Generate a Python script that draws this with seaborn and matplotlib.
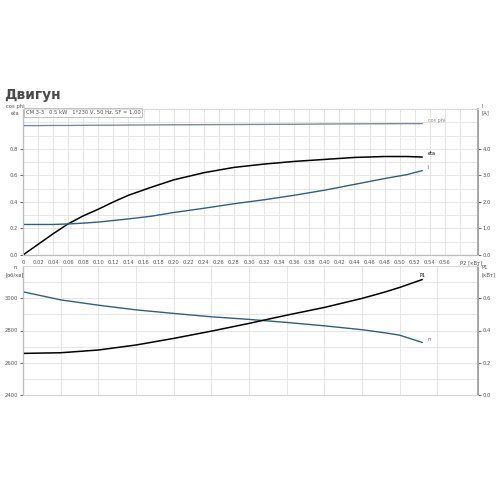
import matplotlib
matplotlib.use("Agg")
import matplotlib.pyplot as plt
import seaborn as sns
import numpy as np
import pandas as pd

# верхній графік: cos phi, eta (ліва вісь), I (права вісь)
p2_top = [0, 0.02, 0.04, 0.06, 0.08, 0.10, 0.12, 0.14, 0.17, 0.20, 0.24,
          0.28, 0.32, 0.36, 0.40, 0.44, 0.48, 0.51, 0.53]
eta = [0, 0.08, 0.16, 0.235, 0.295, 0.345, 0.40, 0.45, 0.51, 0.566, 0.62,
       0.66, 0.685, 0.705, 0.72, 0.735, 0.742, 0.742, 0.738]
current = [1.15, 1.15, 1.15, 1.17, 1.20, 1.24, 1.30, 1.36, 1.46, 1.60, 1.76,
           1.93, 2.08, 2.25, 2.44, 2.66, 2.88, 3.03, 3.18]
cos_phi = [0.975, 0.975, 0.976, 0.976, 0.977, 0.978, 0.978, 0.979, 0.980, 0.981, 0.982,
           0.983, 0.984, 0.985, 0.987, 0.988, 0.989, 0.990, 0.990]

# нижній графік: n (ліва вісь), P1 (права вісь)
p2_bot = [0, 0.05, 0.10, 0.15, 0.20, 0.25, 0.30, 0.35, 0.40, 0.45, 0.48, 0.50, 0.53]
speed = [3040, 2990, 2957, 2928, 2906, 2885, 2869, 2850, 2829, 2805, 2786, 2771, 2726]
p1 = [0.258, 0.262, 0.279, 0.31, 0.351, 0.396, 0.444, 0.495, 0.543, 0.599, 0.638, 0.667, 0.716]

x_ticks = [round(0.02 * i, 2) for i in range(30)]
x_labels = ["0"] + [f"{v:.2f}" for v in x_ticks[1:-1]] + ["P2 [кВт]"]

top = pd.DataFrame({"P2": p2_top, "eta": eta, "I": current, "cos_phi": cos_phi})
bot = pd.DataFrame({"P2": p2_bot, "n": speed, "P1": p1})

sns.set_style("white")
plt.rcParams["font.family"] = ["DejaVu Sans"]

BLUE = "#2f5f80"
GRID = "#e2e2e2"
TXT = "#555555"
fs = 3.8

fig = plt.figure(figsize=(5, 5), dpi=100)
ax1 = fig.add_axes([0.046, 0.49, 0.91, 0.292])
ax2 = ax1.twinx()
ax3 = fig.add_axes([0.046, 0.21, 0.91, 0.258])
ax4 = ax3.twinx()

sns.lineplot(data=top, x="P2", y="cos_phi", ax=ax1, color="#7d8b98", lw=1.0)
sns.lineplot(data=top, x="P2", y="eta", ax=ax1, color="black", lw=1.1)
sns.lineplot(data=top, x="P2", y="I", ax=ax2, color=BLUE, lw=1.0)
sns.lineplot(data=bot, x="P2", y="n", ax=ax3, color=BLUE, lw=1.0)
sns.lineplot(data=bot, x="P2", y="P1", ax=ax4, color="black", lw=1.1)

ax1.set_xlim(0, 0.604)
ax1.set_ylim(0, 1.1)
ax2.set_ylim(0, 5.5)
ax3.set_xlim(0, 0.604)
ax3.set_ylim(2400, 3200)
ax4.set_ylim(0, 0.8)

ax1.set_xticks(x_ticks)
ax1.set_xticklabels(x_labels)
ax1.get_xticklabels()[-1].set_horizontalalignment("left")
ax1.set_yticks([0, 0.2, 0.4, 0.6, 0.8])
ax1.set_yticklabels(["0.0", "0.2", "0.4", "0.6", "0.8"])
ax1.set_yticks(np.arange(0.1, 1.1, 0.1), minor=True)
ax1.grid(True, which="both", color=GRID, lw=0.6)
ax2.set_yticks([0, 1, 2, 3, 4])
ax2.set_yticklabels(["0.0", "1.0", "2.0", "3.0", "4.0"])

ax3.set_xticks(np.arange(0.05, 0.6, 0.05))
ax3.set_xticklabels([])
ax3.set_yticks([2400, 2600, 2800, 3000])
ax3.set_yticks(np.arange(2500, 3200, 100), minor=True)
ax3.grid(True, which="both", color=GRID, lw=0.6)
ax4.set_yticks([0, 0.2, 0.4, 0.6])
ax4.set_yticklabels(["0.0", "0.2", "0.4", "0.6"])

for a in (ax1, ax2, ax3, ax4):
    a.set_xlabel("")
    a.set_ylabel("")
    a.tick_params(labelsize=fs, colors=TXT, length=2, width=0.6, pad=1.5)
    a.tick_params(which="minor", length=0)
    for s in a.spines.values():
        s.set_color("#d8d8d8")
        s.set_linewidth(0.6)
ax3.tick_params(axis="x", length=0)
for a in (ax1, ax3):
    a.spines["left"].set_color("#333333")
    a.spines["left"].set_linewidth(0.8)
    a.spines["bottom"].set_color("#333333")
    a.spines["bottom"].set_linewidth(0.8)
for a in (ax2, ax4):
    a.spines["right"].set_color("#999999")
    a.spines["right"].set_linewidth(1.2)
    a.tick_params(axis="y", colors=TXT)
ax3.spines["bottom"].set_color("#bbbbbb")

# підписи кривих
ax1.text(0.537, cos_phi[-1] + 0.005, "cos phi", fontsize=3.5, color="#888888", va="bottom")
ax1.text(0.537, eta[-1] + 0.005, "eta", fontsize=3.5, color="black", va="bottom")
ax2.text(0.537, current[-1] + 0.03, "I", fontsize=3.5, color="#666666", va="bottom")
ax3.text(0.537, speed[-1] + 5, "n", fontsize=3.5, color="#555555", va="bottom")
ax4.text(0.527, p1[-1] + 0.01, "P1", fontsize=3.5, color="black", va="bottom")

# назви осей
fig.text(0.030, 0.780, "cos phi\neta", fontsize=fs, color=TXT, ha="center", va="center",
         linespacing=1.6)
fig.text(0.964, 0.780, "I\n[А]", fontsize=fs, color=TXT, ha="left", va="center",
         linespacing=1.3)
fig.text(0.030, 0.458, "n\n[об/хв]", fontsize=fs, color=TXT, ha="center", va="center",
         linespacing=1.6)
fig.text(0.964, 0.458, "P1\n[кВт]", fontsize=fs, color=TXT, ha="left", va="center",
         linespacing=1.6)

ax1.text(0.006, 0.993, "CM 3-3   0.5 kW   1*230 V, 50 Hz, SF = 1,00", transform=ax1.transAxes,
         fontsize=fs, color=TXT, ha="left", va="top",
         bbox=dict(boxstyle="square,pad=0.35", fc="white", ec="#aaaaaa", lw=0.5))

fig.text(0.008, 0.81, "Двигун", fontsize=10, fontweight="bold", color="#4a4a4a",
         ha="left", va="center")

fig.savefig("out.png", dpi=100, facecolor="white")
